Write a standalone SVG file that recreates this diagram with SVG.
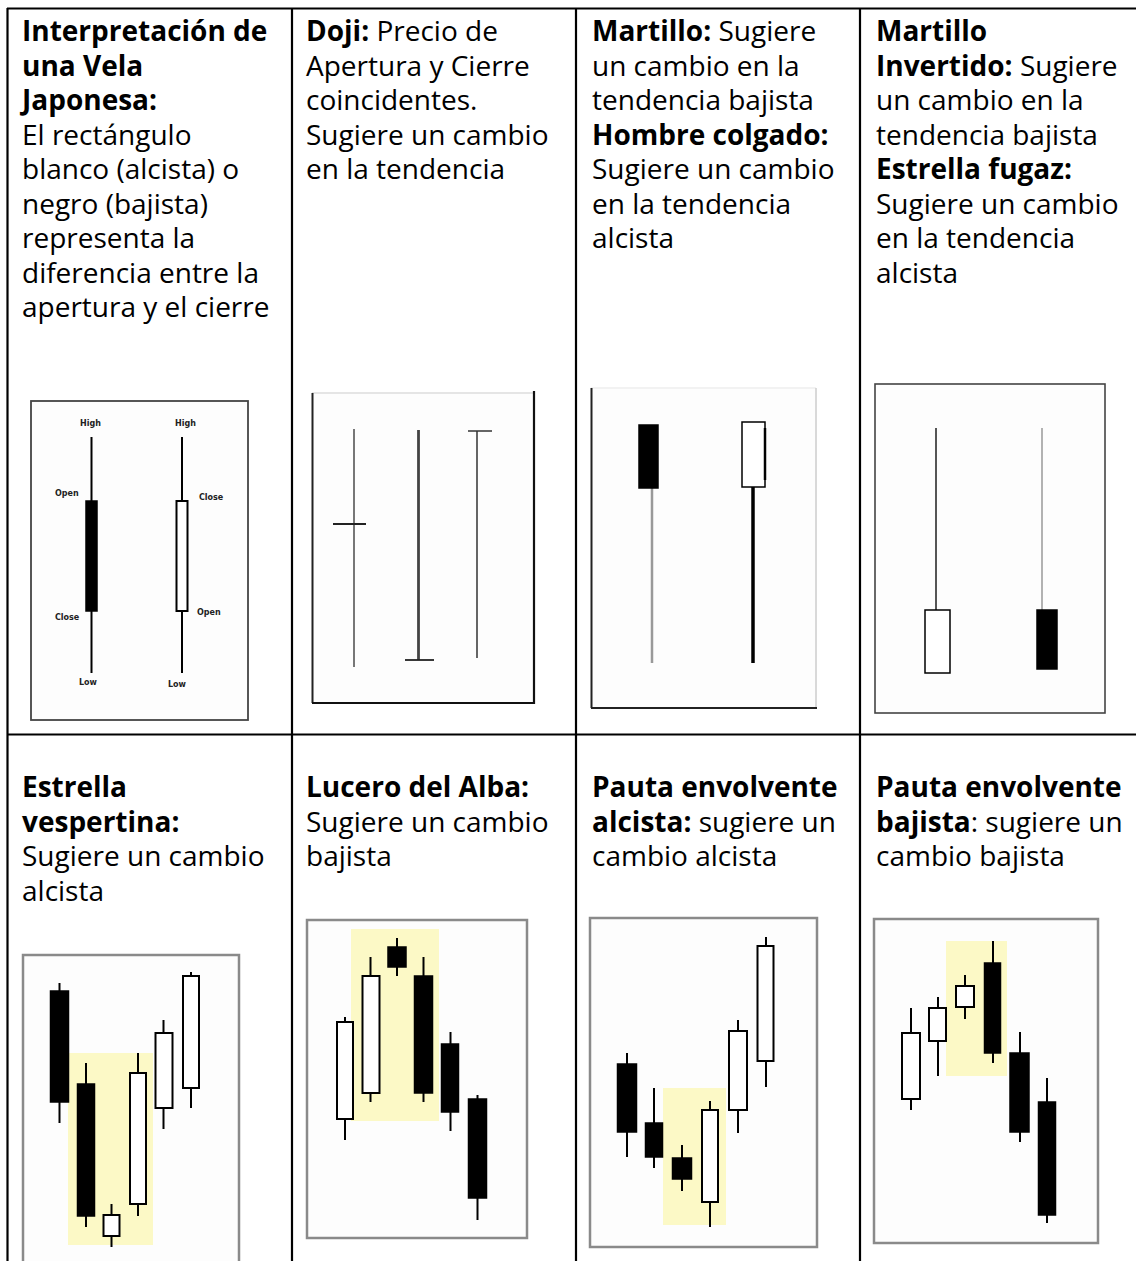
<svg xmlns="http://www.w3.org/2000/svg" width="1136" height="1261" viewBox="0 0 1136 1261">
<style>
  .t{font-family:"Open Sans","Noto Sans","Liberation Sans",sans-serif;font-size:28px;fill:#000}
  .b{font-weight:bold}
  .grid{stroke:#000;stroke-width:2.2;fill:none}
  .lbl{font-family:"DejaVu Sans","Liberation Sans",sans-serif;font-size:8px;font-weight:bold;fill:#222}
  .bk{fill:#000;stroke:#000;stroke-width:1.5}
  .wh{fill:#fff;stroke:#000;stroke-width:2}
  .wk{stroke:#000;stroke-width:2}
  .hl{fill:#fcf9c6}
  .fr2{fill:#fdfdfd;stroke:#8a8a8a;stroke-width:2.5}
</style>
<rect width="1136" height="1261" fill="#fff"/>

<g id="grid" class="grid">
  <line x1="7" y1="8.5" x2="1136" y2="8.5"/>
  <line x1="7" y1="734.5" x2="1136" y2="734.5"/>
  <line x1="7.5" y1="8" x2="7.5" y2="1261"/>
  <line x1="292" y1="8" x2="292" y2="1261"/>
  <line x1="576" y1="8" x2="576" y2="1261"/>
  <line x1="860" y1="8" x2="860" y2="1261"/>
</g>

<!-- Row 1 texts -->
<g id="cell-vela">
  <text class="t" x="22"><tspan class="b" x="22" y="41">Interpretación de</tspan><tspan class="b" x="22" y="75.5">una Vela</tspan><tspan class="b" x="22" y="110">Japonesa:</tspan><tspan x="22" y="144.5">El rectángulo</tspan><tspan x="22" y="179">blanco (alcista) o</tspan><tspan x="22" y="213.5">negro (bajista)</tspan><tspan x="22" y="248">representa la</tspan><tspan x="22" y="282.5">diferencia entre la</tspan><tspan x="22" y="317">apertura y el cierre</tspan></text>
  <rect x="31" y="401" width="217" height="319" fill="#fdfdfd" stroke="#444" stroke-width="1.8"/>
  <line class="wk" x1="91.5" y1="437" x2="91.5" y2="673"/>
  <rect class="bk" x="86" y="501" width="11" height="110"/>
  <line class="wk" x1="182" y1="437" x2="182" y2="673"/>
  <rect class="wh" x="176.5" y="501" width="11" height="110" stroke-width="1.6"/>
  <text class="lbl" x="80" y="426">High</text>
  <text class="lbl" x="175" y="426">High</text>
  <text class="lbl" x="55" y="496">Open</text>
  <text class="lbl" x="199" y="500">Close</text>
  <text class="lbl" x="55" y="620">Close</text>
  <text class="lbl" x="197" y="615">Open</text>
  <text class="lbl" x="79" y="685">Low</text>
  <text class="lbl" x="168" y="687">Low</text>
</g>

<g id="cell-doji">
  <text class="t"><tspan class="b" x="306" y="41">Doji:</tspan><tspan> Precio de</tspan><tspan x="306" y="75.5">Apertura y Cierre</tspan><tspan x="306" y="110">coincidentes.</tspan><tspan x="306" y="144.5">Sugiere un cambio</tspan><tspan x="306" y="179">en la tendencia</tspan></text>
  <rect x="312" y="393" width="222" height="310" fill="#fdfdfd" stroke="none"/>
  <line x1="312" y1="393" x2="534" y2="393" stroke="#ddd" stroke-width="1.5"/>
  <line x1="312.5" y1="393" x2="312.5" y2="703" stroke="#222" stroke-width="2"/>
  <line x1="312" y1="703" x2="535" y2="703" stroke="#111" stroke-width="2.2"/>
  <line x1="534" y1="391" x2="534" y2="704" stroke="#111" stroke-width="2.2"/>
  <line x1="354" y1="429" x2="354" y2="667" stroke="#555" stroke-width="1.6"/>
  <line x1="333" y1="524" x2="366" y2="524" stroke="#222" stroke-width="2"/>
  <line x1="418.5" y1="430" x2="418.5" y2="660" stroke="#444" stroke-width="2.8"/>
  <line x1="405" y1="660" x2="434" y2="660" stroke="#222" stroke-width="1.8"/>
  <line x1="477" y1="431" x2="477" y2="658" stroke="#555" stroke-width="1.8"/>
  <line x1="468" y1="431" x2="492" y2="431" stroke="#333" stroke-width="1.5"/>
</g>

<g id="cell-martillo">
  <text class="t"><tspan class="b" x="592" y="41">Martillo:</tspan><tspan> Sugiere</tspan><tspan x="592" y="75.5">un cambio en la</tspan><tspan x="592" y="110">tendencia bajista</tspan><tspan class="b" x="592" y="144.5">Hombre colgado:</tspan><tspan x="592" y="179">Sugiere un cambio</tspan><tspan x="592" y="213.5">en la tendencia</tspan><tspan x="592" y="248">alcista</tspan></text>
  <rect x="591" y="388" width="225" height="320" fill="#fdfdfd" stroke="none"/>
  <line x1="591" y1="388" x2="816" y2="388" stroke="#eee" stroke-width="1.5"/>
  <line x1="816" y1="388" x2="816" y2="708" stroke="#ccc" stroke-width="1.5"/>
  <line x1="591.5" y1="388" x2="591.5" y2="708" stroke="#222" stroke-width="2"/>
  <line x1="591" y1="708" x2="817" y2="708" stroke="#222" stroke-width="2"/>
  <line x1="652" y1="488" x2="652" y2="663" stroke="#999" stroke-width="2.5"/>
  <rect class="bk" x="639" y="425" width="19" height="63"/>
  <line x1="753" y1="487" x2="753" y2="663" stroke="#000" stroke-width="3.5"/>
  <rect x="742" y="422" width="23" height="65" fill="#fff" stroke="#000" stroke-width="1.5"/>
  <line x1="765" y1="428" x2="765" y2="480" stroke="#000" stroke-width="2.5"/>
</g>

<g id="cell-martillo-invertido">
  <text class="t"><tspan class="b" x="876" y="41">Martillo</tspan><tspan class="b" x="876" y="75.5">Invertido:</tspan><tspan> Sugiere</tspan><tspan x="876" y="110">un cambio en la</tspan><tspan x="876" y="144.5">tendencia bajista</tspan><tspan class="b" x="876" y="179">Estrella fugaz:</tspan><tspan x="876" y="213.5">Sugiere un cambio</tspan><tspan x="876" y="248">en la tendencia</tspan><tspan x="876" y="282.5">alcista</tspan></text>
  <rect x="875" y="384" width="230" height="329" fill="#fdfdfd" stroke="#444" stroke-width="1.6"/>
  <line x1="936" y1="428" x2="936" y2="610" stroke="#555" stroke-width="2"/>
  <rect x="925" y="610" width="25" height="63" fill="#fff" stroke="#000" stroke-width="1.5"/>
  <line x1="1042" y1="428" x2="1042" y2="610" stroke="#aaa" stroke-width="1.8"/>
  <rect class="bk" x="1037" y="610" width="20" height="59"/>
</g>

<!-- Row 2 -->
<g id="cell-estrella-vespertina">
  <text class="t"><tspan class="b" x="22" y="797">Estrella</tspan><tspan class="b" x="22" y="831.5">vespertina:</tspan><tspan x="22" y="866">Sugiere un cambio</tspan><tspan x="22" y="900.5">alcista</tspan></text>
  <path d="M23 1262 V955 H239 V1262" class="fr2"/>
  <rect class="hl" x="68" y="1053" width="85" height="192"/>
  <line class="wk" x1="59.5" y1="983" x2="59.5" y2="1123"/>
  <rect class="bk" x="50.5" y="991" width="18" height="111"/>
  <line class="wk" x1="86" y1="1063" x2="86" y2="1227"/>
  <rect class="bk" x="77.5" y="1084" width="17" height="132"/>
  <line class="wk" x1="111.5" y1="1204" x2="111.5" y2="1247"/>
  <rect class="wh" x="103.5" y="1215" width="16" height="21"/>
  <line class="wk" x1="138" y1="1053" x2="138" y2="1216"/>
  <rect class="wh" x="130" y="1073" width="16" height="131"/>
  <line class="wk" x1="163.5" y1="1020" x2="163.5" y2="1129"/>
  <rect class="wh" x="155.5" y="1033" width="17" height="75"/>
  <line class="wk" x1="191" y1="972" x2="191" y2="1108"/>
  <rect class="wh" x="183" y="976" width="16" height="112"/>
</g>

<g id="cell-lucero-alba">
  <text class="t"><tspan class="b" x="306" y="797">Lucero del Alba:</tspan><tspan x="306" y="831.5">Sugiere un cambio</tspan><tspan x="306" y="866">bajista</tspan></text>
  <rect class="fr2" x="307" y="920" width="220" height="318"/>
  <rect class="hl" x="351" y="929" width="88" height="192"/>
  <line class="wk" x1="345" y1="1017" x2="345" y2="1140"/>
  <rect class="wh" x="337" y="1022" width="16" height="97"/>
  <line class="wk" x1="370.5" y1="957" x2="370.5" y2="1102"/>
  <rect class="wh" x="362.5" y="976" width="17" height="117"/>
  <line class="wk" x1="397" y1="938" x2="397" y2="976"/>
  <rect class="bk" x="388" y="947" width="18" height="20"/>
  <line class="wk" x1="423.5" y1="957" x2="423.5" y2="1102"/>
  <rect class="bk" x="414.5" y="976" width="18" height="117"/>
  <line class="wk" x1="450.5" y1="1032" x2="450.5" y2="1131"/>
  <rect class="bk" x="441.5" y="1044" width="17" height="68"/>
  <line class="wk" x1="477.5" y1="1095" x2="477.5" y2="1220"/>
  <rect class="bk" x="468.5" y="1099" width="18" height="99"/>
</g>

<g id="cell-envolvente-alcista">
  <text class="t"><tspan class="b" x="592" y="797">Pauta envolvente</tspan><tspan class="b" x="592" y="831.5">alcista:</tspan><tspan> sugiere un</tspan><tspan x="592" y="866">cambio alcista</tspan></text>
  <rect class="fr2" x="590" y="918" width="227" height="329"/>
  <rect class="hl" x="663" y="1088" width="63" height="137"/>
  <line class="wk" x1="627" y1="1053" x2="627" y2="1157"/>
  <rect class="bk" x="617.5" y="1064" width="19" height="68"/>
  <line class="wk" x1="654" y1="1088" x2="654" y2="1168"/>
  <rect class="bk" x="645.5" y="1123" width="17" height="34"/>
  <line class="wk" x1="682" y1="1145" x2="682" y2="1191"/>
  <rect class="bk" x="672.5" y="1158" width="19" height="21"/>
  <line class="wk" x1="710" y1="1101" x2="710" y2="1227"/>
  <rect class="wh" x="702" y="1110" width="16" height="92"/>
  <line class="wk" x1="738" y1="1020" x2="738" y2="1133"/>
  <rect class="wh" x="729" y="1031" width="18" height="79"/>
  <line class="wk" x1="766" y1="937" x2="766" y2="1087"/>
  <rect class="wh" x="757.5" y="946" width="16" height="115"/>
</g>

<g id="cell-envolvente-bajista">
  <text class="t"><tspan class="b" x="876" y="797">Pauta envolvente</tspan><tspan class="b" x="876" y="831.5">bajista</tspan><tspan>: sugiere un</tspan><tspan x="876" y="866">cambio bajista</tspan></text>
  <rect class="fr2" x="874" y="919" width="224" height="324"/>
  <rect class="hl" x="946" y="941" width="61" height="135"/>
  <line class="wk" x1="911" y1="1008" x2="911" y2="1110"/>
  <rect class="wh" x="902" y="1033" width="18" height="66"/>
  <line class="wk" x1="938" y1="997" x2="938" y2="1076"/>
  <rect class="wh" x="929" y="1008" width="17" height="33"/>
  <line class="wk" x1="965" y1="975" x2="965" y2="1019"/>
  <rect class="wh" x="956" y="986" width="18" height="21"/>
  <line class="wk" x1="993" y1="941" x2="993" y2="1063"/>
  <rect class="bk" x="984.5" y="963" width="16" height="90"/>
  <line class="wk" x1="1020" y1="1032" x2="1020" y2="1142"/>
  <rect class="bk" x="1010" y="1053" width="19" height="79"/>
  <line class="wk" x1="1047" y1="1078" x2="1047" y2="1223"/>
  <rect class="bk" x="1038.5" y="1102" width="17" height="113"/>
</g>
</svg>
